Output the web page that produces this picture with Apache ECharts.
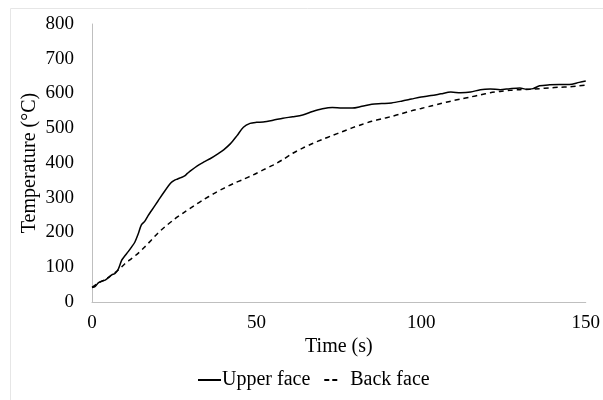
<!DOCTYPE html>
<html>
<head>
<meta charset="utf-8">
<script src="https://cdn.jsdelivr.net/npm/echarts@6/dist/echarts.min.js"></script>
<style>html,body{margin:0;padding:0;background:#fff}#c{width:603px;height:400px}</style>
</head>
<body>
<div id="c"></div>
<script>
var upperTime = [0,1,2,3,4,5,6,7,8,9,10,11,12,13,14,15,16,17,18,20,22,24,25,26,27,28,29,30,32,34,36,38,40,42,44,46,48,50,52,55,58,61,64,67,70,73,76,79,82,85,88,91,94,97,100,103,106,109,112,115,118,121,124,127,130,132,134,136,139,142,145,148,150];
var upperTemp = [42,45,56,60,63,70,78,82,95,120,133,145,158,172,195,222,232,248,262,290,318,343,350,354,358,362,370,378,392,403,413,425,438,455,478,503,514,517,518,523,529,533,538,548,556,560,558,558,563,569,571,573,578,584,590,594,599,604,602,604,611,613,611,614,616,612,614,622,625,626,626,632,636];
var backTime = [0,2,4,6,8,10,12,14,16,18,20,22,25,28,31,34,37,40,43,46,49,52,55,58,61,64,67,70,73,76,79,82,85,88,91,94,97,100,103,106,109,112,115,118,121,124,127,130,133,136,139,142,145,148,150];
var backTemp = [42,55,65,78,92,110,125,140,158,178,198,215,238,258,277,295,312,327,341,353,366,380,394,410,428,443,456,468,479,490,501,511,520,527,534,542,550,557,564,571,578,584,590,596,602,606,609,611,612,614,616,618,619,622,624];
var xTicks = [0,50,100,150];
var yTicks = [0,100,200,300,400,500,600,700,800];
var seriesNames = ['Upper face','Back face'];

function pairs(t, v){ return t.map(function(x,i){ return [x, v[i]]; }); }

var FONT = '"Liberation Serif","Times New Roman",serif';
var FS = 20, FT = 19;
var chart = echarts.init(document.getElementById('c'), null, {renderer:'canvas'});
chart.setOption({
  animation:false,
  backgroundColor:'#fff',
  textStyle:{fontFamily:FONT},
  graphic:[{type:'rect', shape:{x:10.5,y:8.5,width:620,height:420}, style:{fill:'none', stroke:'#e6e6e6', lineWidth:1}, silent:true}],
  grid:{left:92, right:13, top:24, bottom:98, containLabel:false},
  legend:{
    data:[
      {name:seriesNames[0], icon:'path://M0,0H23V2H0Z', textStyle:{padding:[0,0,0,-4]}},
      {name:seriesNames[1], icon:'path://M0,0M2,0H7V2H2Z M10,0H15V2H10Z M23,2', textStyle:{padding:[0,0,0,0]}}
    ],
    bottom:5, left:193, itemWidth:23, itemHeight:2, itemGap:12,
    itemStyle:{color:'#000'},
    textStyle:{fontFamily:FONT, fontSize:FS, color:'#000'}
  },
  xAxis:{
    type:'value', min:xTicks[0], max:xTicks[xTicks.length-1], interval:50,
    name:'Time (s)', nameLocation:'middle', nameGap:35, nameMoveOverlap:false,
    nameTextStyle:{fontFamily:FONT, fontSize:FS, color:'#000'},
    axisLine:{show:true, lineStyle:{color:'#bfbfbf', width:1}},
    axisTick:{show:false}, splitLine:{show:false},
    axisLabel:{fontFamily:FONT, fontSize:FT, color:'#000', margin:12}
  },
  yAxis:{
    type:'value', min:yTicks[0], max:yTicks[yTicks.length-1], interval:100,
    name:'Temperature (°C)', nameLocation:'middle', nameGap:52, nameMoveOverlap:false,
    nameTextStyle:{fontFamily:FONT, fontSize:FS, color:'#000'},
    axisLine:{show:true, lineStyle:{color:'#bfbfbf', width:1}},
    axisTick:{show:false}, splitLine:{show:false},
    axisLabel:{fontFamily:FONT, fontSize:FT, color:'#000', margin:18}
  },
  series:[
    {name:seriesNames[0], type:'line', data:pairs(upperTime, upperTemp), symbol:'none', showSymbol:false, smooth:0.3,
     lineStyle:{color:'#000', width:1.5, type:'solid'}, itemStyle:{color:'#000'}},
    {name:seriesNames[1], type:'line', data:pairs(backTime, backTemp), symbol:'none', showSymbol:false, smooth:0.3,
     lineStyle:{color:'#000', width:1.5, type:[5,4]}, itemStyle:{color:'#000'}}
  ]
});
</script>
</body>
</html>
